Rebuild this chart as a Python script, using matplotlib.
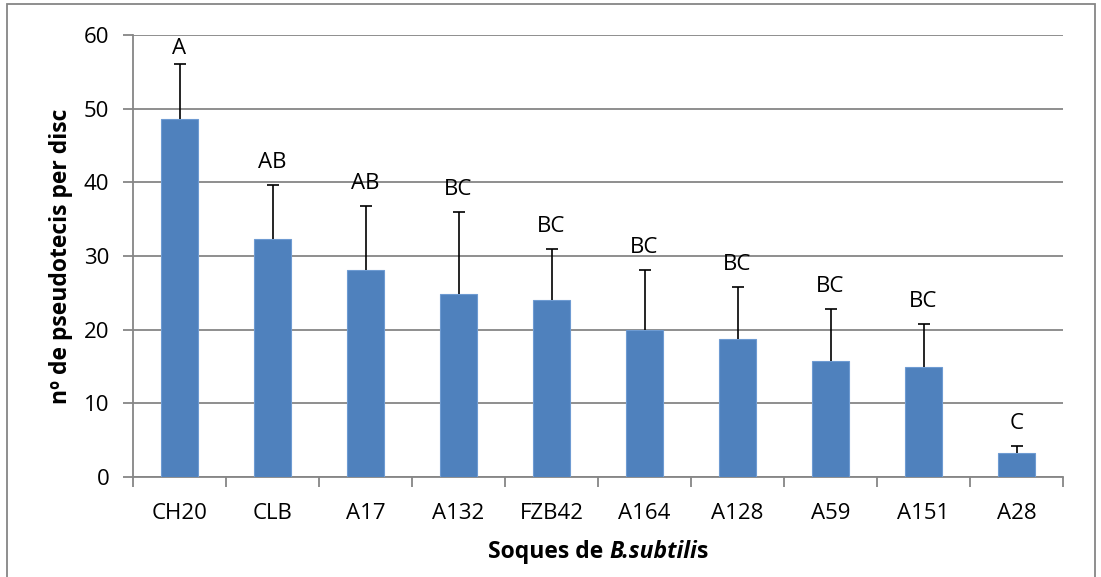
import matplotlib

matplotlib.use("Agg")

import numpy as np
import matplotlib.pyplot as plt

# Dades: soques, mitjana de pseudotecis i error (només cap amunt)
soques = ["CH20", "CLB", "A17", "A132", "FZB42", "A164", "A128", "A59", "A151", "A28"]
mitjanes = [48.6, 32.3, 28.1, 24.9, 24.0, 20.0, 18.7, 15.7, 15.0, 3.3]
error_sup = [7.4, 7.3, 8.7, 11.1, 7.0, 8.1, 7.1, 7.1, 5.8, 0.9]
lletres = ["A", "AB", "AB", "BC", "BC", "BC", "BC", "BC", "BC", "C"]

plt.rcParams["font.family"] = ["Open Sans", "DejaVu Sans"]
gris = "#868686"
mida = 16
mida_titol = 16.5

fig = plt.figure(figsize=(11.01, 5.77), dpi=100)
ax = fig.add_axes([133 / 1101, 100 / 577, 930 / 1101, 442 / 577])

x = np.arange(len(soques))
ax.bar(x, mitjanes, width=0.39, color="#4F81BD", edgecolor="#6E9BD2",
       linewidth=0.8, zorder=3)

# Barres d'error: línia vertical i remat superior
tops = np.array(mitjanes) + np.array(error_sup)
ax.vlines(x, mitjanes, tops, color="black", linewidth=1.2, zorder=4)
ax.plot(x, tops, linestyle="none", marker="_", markersize=9,
        markeredgewidth=1.2, color="black", zorder=4)

# Lletres de significació sobre cada barra
for xi, t, txt in zip(x, tops, lletres):
    ax.text(xi, min(t + 1.6, 56.8), txt, ha="center", va="bottom",
            fontsize=mida, zorder=5)

ax.set_xlim(-0.5, len(soques) - 0.5)
ax.set_ylim(0, 60)
ax.set_yticks(range(0, 61, 10))
ax.set_xticks(x)
ax.set_xticklabels(soques, fontsize=mida)
ax.set_xticks(np.arange(-0.5, len(soques)), minor=True)
ax.tick_params(axis="x", which="major", length=0, pad=19)
ax.tick_params(axis="x", which="minor", length=7, color=gris, width=1.3)
ax.tick_params(axis="y", length=7, color=gris, width=1.3, labelsize=mida, pad=10)

ax.grid(axis="y", color=gris, linewidth=1.3, zorder=0)
for s in ["top", "right"]:
    ax.spines[s].set_visible(False)
for s in ["left", "bottom"]:
    ax.spines[s].set_color(gris)
    ax.spines[s].set_linewidth(1.3)

ax.set_ylabel("nº de pseudotecis per disc", fontsize=mida_titol,
              fontweight="bold", labelpad=8)

# Títol de l'eix x amb el nom de l'espècie en cursiva
fig.canvas.draw()
r = fig.canvas.get_renderer()
parts = [("Soques de ", "normal"), ("B.subtili", "italic"), ("s", "normal")]
amples = []
objs = []
for t, st in parts:
    o = fig.text(0, 0, t, fontsize=mida_titol, fontweight="bold", style=st,
                 va="center")
    amples.append(o.get_window_extent(r).width)
    objs.append(o)
x0 = (ax.get_position().x0 + ax.get_position().width / 2) * 1101 - sum(amples) / 2
for o, w in zip(objs, amples):
    o.set_position((x0 / 1101, 1 - 552 / 577))
    x0 += w

# Marc exterior del gràfic
fig.patches.append(plt.Rectangle((7 / 1101, -0.01), 1088 / 1101, 1 - 4 / 577 + 0.01,
                                 transform=fig.transFigure, fill=False,
                                 edgecolor=gris, linewidth=1.3))

fig.savefig("out.png", dpi=100)
